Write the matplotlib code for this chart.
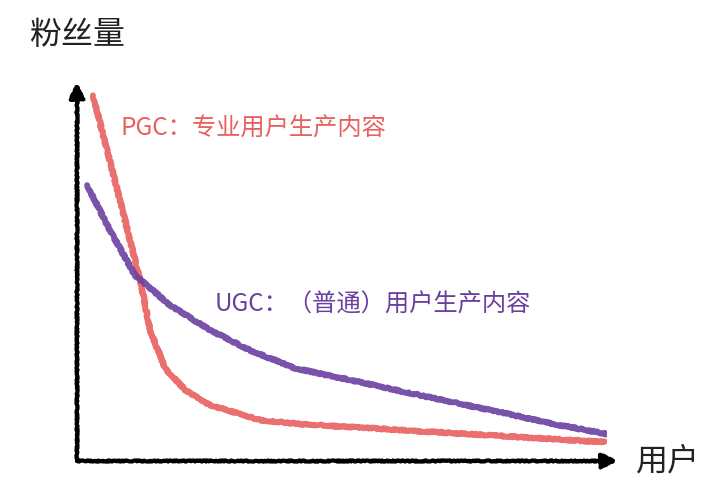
import matplotlib
matplotlib.use('Agg')
import matplotlib.pyplot as plt

# 设置中文字体
plt.rcParams['font.family'] = ['Noto Sans CJK SC', 'DejaVu Sans']

# 数据（从图上读取，x: 用户排名 0-100, y: 粉丝量 0-100）
pgc_x = [3.0, 8.1, 11.9, 13.8, 16.6, 20.4, 25.1, 34.5, 42.1, 60.9, 79.8, 99.6]
pgc_y = [98.9, 70.5, 48.9, 35.4, 25.1, 19.2, 15.1, 11.1, 10.0, 8.4, 6.8, 5.1]
ugc_x = [1.9, 6.2, 10.9, 17.5, 25.1, 32.6, 41.1, 51.5, 64.7, 79.8, 91.1, 101.1]
ugc_y = [74.6, 62.4, 50.3, 42.2, 35.4, 30.0, 25.1, 21.9, 17.8, 13.2, 9.7, 7.0]

pgc_label = 'PGC：专业用户生产内容'
ugc_label = 'UGC：（普通）用户生产内容'
x_label = '用户'
y_label = '粉丝量'

red = '#E8615F'
purple = '#6A3FA0'

fig = plt.figure(figsize=(7.2, 4.97), dpi=100)
ax = fig.add_axes([0.107, 0.0724, 0.736, 0.744])
ax.set_xlim(0, 100)
ax.set_ylim(0, 100)
ax.axis('off')

# 手绘风格的曲线
l1, = ax.plot(pgc_x, pgc_y, color=red, lw=4.2, alpha=0.9, solid_capstyle='round')
l2, = ax.plot(ugc_x, ugc_y, color=purple, lw=4.2, alpha=0.9, solid_capstyle='round')
for ln in (l1, l2):
    ln.set_sketch_params(scale=0.8, length=2, randomness=10)

# 坐标轴箭头
arrow = dict(arrowstyle='-|>,head_length=0.9,head_width=0.45', color='black',
             lw=3, shrinkA=0, shrinkB=0)
a1 = ax.annotate('', xy=(102.0, 0), xytext=(0, 0), arrowprops=arrow,
                 annotation_clip=False)
a2 = ax.annotate('', xy=(0, 102.4), xytext=(0, 0), arrowprops=arrow,
                 annotation_clip=False)
for a in (a1, a2):
    a.arrow_patch.set_sketch_params(scale=0.6, length=2, randomness=6)

# 文字
ax.text(8.2, 89.8, pgc_label, color=red, fontsize=17.5, va='center', ha='left')
ax.text(26.0, 42.4, ugc_label, color=purple, fontsize=17.5, va='center', ha='left')
fig.text(0.04, 0.93, y_label, fontsize=23, color='#222222', va='center', ha='left')
ax.text(105.5, 0.0, x_label, fontsize=23, color='#222222', va='center', ha='left')

plt.savefig('out.png', dpi=100)
